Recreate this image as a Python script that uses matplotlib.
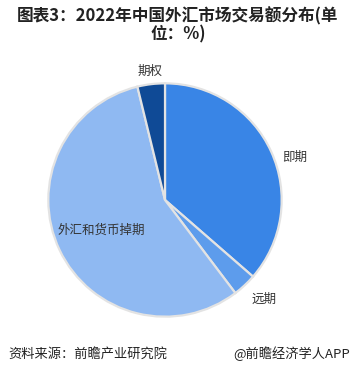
import numpy as np
import matplotlib
matplotlib.use("Agg")
import matplotlib.pyplot as plt

plt.rcParams['font.family'] = ['Noto Sans CJK SC', 'DejaVu Sans']

categories = ["即期", "远期", "外汇和货币掉期", "期权"]
values = [36.4, 3.3, 56.5, 3.8]
colors = ["#3985e6", "#5d9cec", "#8fb9f2", "#0f4a96"]
title = "图表3：2022年中国外汇市场交易额分布(单\n位：%)"
source = "资料来源：前瞻产业研究院"
brand = "@前瞻经济学人APP"

W, H = 356, 384
fig = plt.figure(figsize=(W / 100, H / 100), dpi=100)
fig.patch.set_facecolor("white")

cx, cy, r = 165, 200, 119
ax = fig.add_axes([(cx - r) / W, (H - cy - r) / H, 2 * r / W, 2 * r / H])
wedges, _ = ax.pie(values, colors=colors, startangle=90, counterclock=False,
                   radius=1.0,
                   wedgeprops=dict(edgecolor="#e3e3e3", linewidth=1.6))
ax.set_xlim(-1.02, 1.02)
ax.set_ylim(-1.02, 1.02)
ax.set_aspect("equal")
ax.axis("off")

label_r = [1.13, 1.16, 0.6, 1.11]
for w, lab, lr in zip(wedges, categories, label_r):
    ang = np.deg2rad((w.theta1 + w.theta2) / 2)
    x, y = lr * np.cos(ang), lr * np.sin(ang)
    if lab == "即期":
        ang2 = np.deg2rad(20)
        x, y = 1.07 * np.cos(ang2), 1.07 * np.sin(ang2)
        ha = "left"
    elif lab == "远期":
        ha = "left"
        x -= 0.05
    else:
        ha = "center"
    ax.text(x, y, lab, ha=ha, va="center", fontsize=9, color="#333333")

fig.text(0.5, 1 - 25 / H, title, ha="center", va="center", fontsize=12,
         fontweight="bold", color="#222222", linespacing=1.0)
fig.text(8 / W, 1 - 354 / H, source, ha="left", va="center", fontsize=9.5,
         color="#222222")
fig.text(350 / W, 1 - 354 / H, brand, ha="right", va="center", fontsize=9.5,
         color="#222222")

fig.savefig("out.png", dpi=100, facecolor="white")
